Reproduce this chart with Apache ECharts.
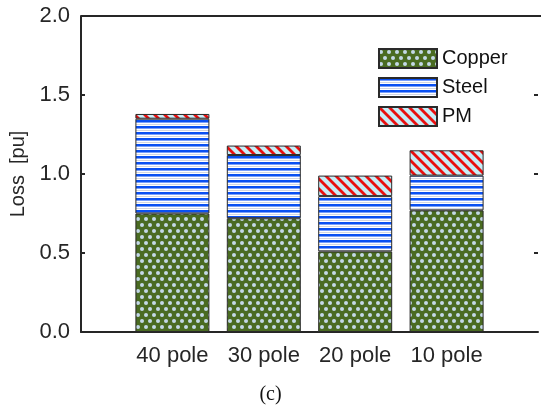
<!DOCTYPE html>
<html>
<head>
<meta charset="utf-8">
<script src="https://cdn.jsdelivr.net/npm/echarts@6/dist/echarts.min.js"></script>
<style>html,body{margin:0;padding:0;background:#fff}#c{width:541px;height:408px}</style>
</head>
<body>
<div id="c"></div>
<script>
const categories = ['40 pole', '30 pole', '20 pole', '10 pole'];
const copper = [0.75, 0.72, 0.51, 0.77];
const steel = [0.60, 0.40, 0.35, 0.22];
const pm = [0.03, 0.06, 0.13, 0.16];

function tile(w, h, draw) {
  const c = document.createElement('canvas');
  c.width = w; c.height = h;
  draw(c.getContext('2d'), w, h);
  return { image: c, repeat: 'repeat' };
}
const copperPat = tile(8, 12, (g, w, h) => {
  g.fillStyle = '#4a6b22'; g.fillRect(0, 0, w, h);
  g.fillStyle = '#c4d8e8';
  [[2, 3], [6, 9]].forEach(([x, y]) => { g.beginPath(); g.arc(x, y, 2.0, 0, Math.PI * 2); g.fill(); });
});
const steelPat = tile(4, 6, (g, w, h) => {
  g.fillStyle = '#ffffff'; g.fillRect(0, 0, w, h);
  g.fillStyle = '#0a50f2'; g.fillRect(0, 0, w, 2);
  g.fillStyle = '#7aa0fa'; g.fillRect(0, 2, w, 1);
  g.fillStyle = '#d2d6e2'; g.fillRect(0, 4, w, 1);
});
const pmPat = tile(10, 10, (g, w, h) => {
  g.fillStyle = '#c6eef8'; g.fillRect(0, 0, w, h);
  g.strokeStyle = '#e81010'; g.lineWidth = 2.8;
  for (let k = -2; k <= 2; k++) {
    g.beginPath(); g.moveTo(k * 10 - 5, -5); g.lineTo(k * 10 + 15, 15); g.stroke();
  }
});

const padded = [''].concat(categories, ['']);
const pad = a => [null].concat(a, [null]);
const font = 'Liberation Sans';
const axisCol = '#262626';
const barStyle = (p) => ({ color: p, borderColor: '#2a2a2a', borderWidth: 1 });

const chart = echarts.init(document.getElementById('c'), null, { renderer: 'canvas' });
chart.setOption({
  animation: false,
  title: {
    text: '(c)', left: 'center', top: 385,
    textStyle: { fontFamily: 'Liberation Serif', fontSize: 20, fontWeight: 'normal', color: '#111' },
    padding: 0
  },
  legend: {
    left: 378, top: 48, orient: 'vertical',
    itemWidth: 58, itemHeight: 19, itemGap: 8,
    icon: 'rect',
    textStyle: { fontFamily: font, fontSize: 20, color: '#111', padding: 0 },
    data: ['Copper', 'Steel', 'PM'],
    padding: 0
  },
  grid: { left: 81, top: 16, right: 0, bottom: 76, show: false },
  xAxis: {
    type: 'category', data: padded, boundaryGap: false,
    axisLine: { lineStyle: { color: axisCol, width: 2 } },
    axisTick: { show: false },
    axisLabel: { fontFamily: font, fontSize: 22, color: axisCol, margin: 13, interval: 0 },
    splitLine: { show: false }
  },
  yAxis: [{
    type: 'value', min: 0, max: 2, interval: 0.5,
    name: 'Loss  [pu]', nameLocation: 'middle', nameGap: 42,
    nameTextStyle: { fontFamily: font, fontSize: 20, color: axisCol },
    axisLine: { show: true, lineStyle: { color: axisCol, width: 2 } },
    axisTick: { show: true, inside: true, length: 4, lineStyle: { color: axisCol, width: 2 } },
    axisLabel: { fontFamily: font, fontSize: 22, color: axisCol, margin: 11, formatter: v => v.toFixed(1) },
    splitLine: { show: false }
  }, {
    type: 'value', min: 0, max: 2, interval: 0.5, position: 'right',
    axisLine: { show: false },
    axisTick: { show: true, inside: true, length: 4, lineStyle: { color: axisCol, width: 2 } },
    axisLabel: { show: false }, splitLine: { show: false }
  }],
  graphic: [{
    type: 'line', shape: { x1: 81, y1: 16, x2: 541, y2: 16 },
    style: { stroke: axisCol, lineWidth: 2 }
  }],
  series: [
    { name: 'Copper', type: 'bar', stack: 'a', barWidth: 74, data: pad(copper), itemStyle: barStyle(copperPat) },
    { name: 'Steel', type: 'bar', stack: 'a', barWidth: 74, data: pad(steel), itemStyle: barStyle(steelPat) },
    { name: 'PM', type: 'bar', stack: 'a', barWidth: 74, data: pad(pm), itemStyle: barStyle(pmPat) }
  ]
});
</script>
</body>
</html>
